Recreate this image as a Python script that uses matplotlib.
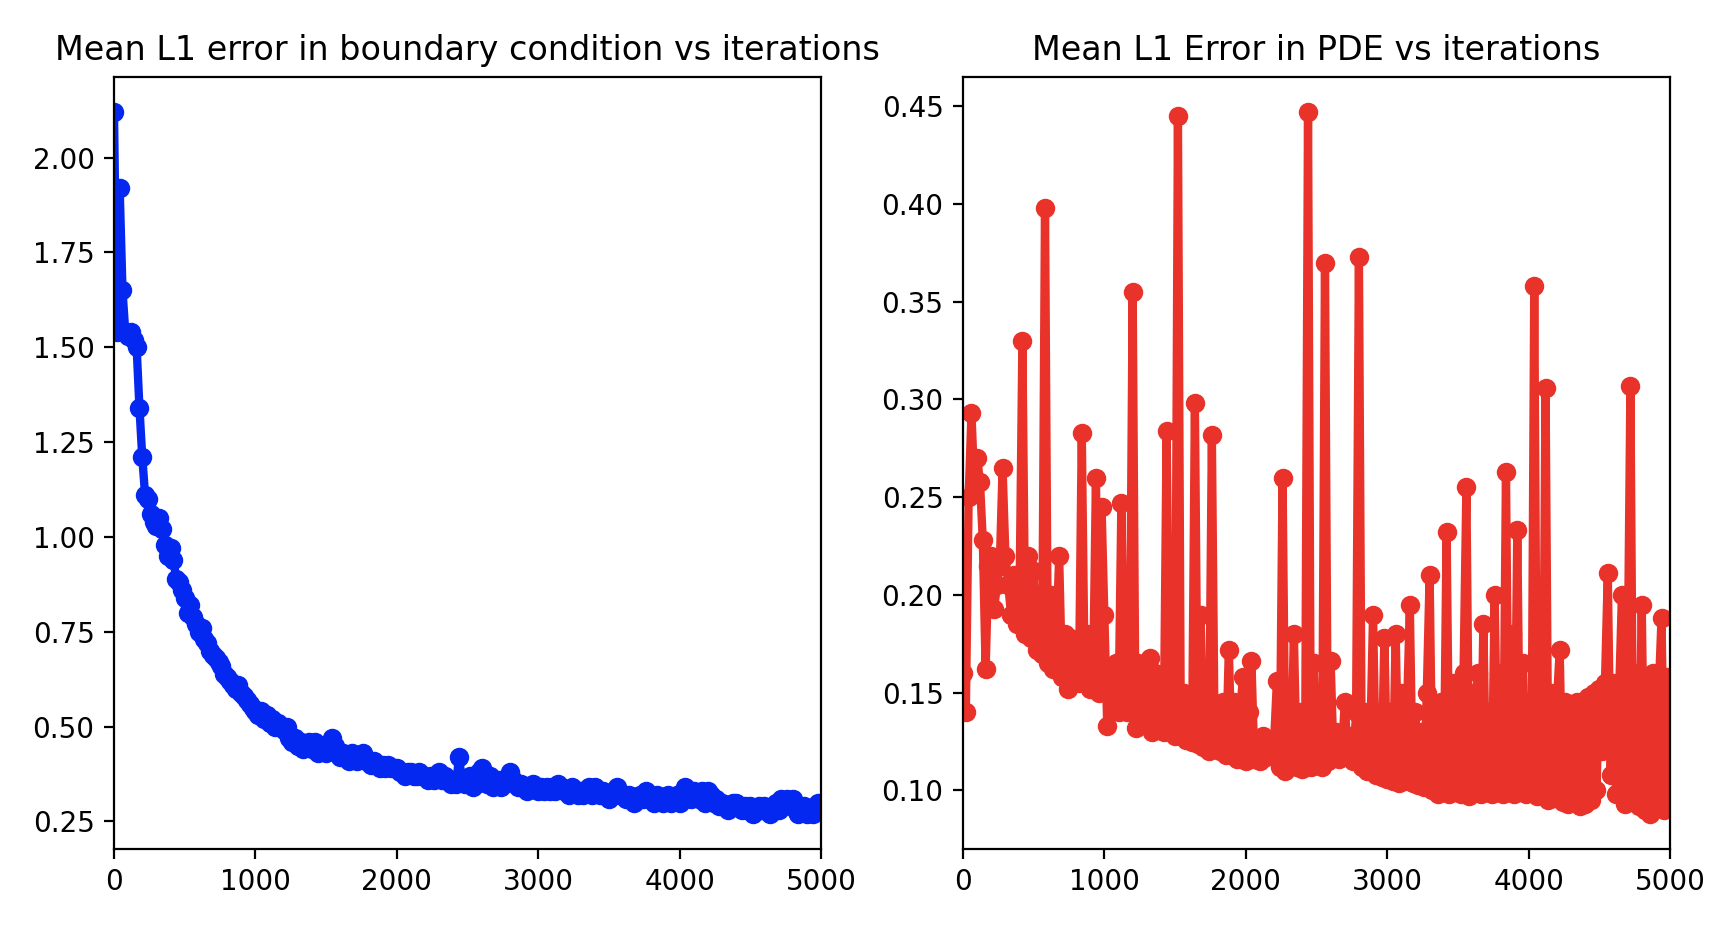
import matplotlib
matplotlib.use("Agg")
import matplotlib.pyplot as plt
import numpy as np

# logged every 20 iterations
iterations = np.arange(0, 5000, 20)

bc_error = [
    2.12, 1.54, 1.92, 1.65, 1.54, 1.53, 1.54, 1.52, 1.50, 1.34,
    1.21, 1.11, 1.10, 1.06, 1.04, 1.03, 1.05, 1.02, 0.98, 0.95,
    0.97, 0.94, 0.89, 0.88, 0.86, 0.84, 0.80, 0.82, 0.79, 0.77,
    0.75, 0.76, 0.73, 0.72, 0.70, 0.69, 0.68, 0.67, 0.66, 0.64,
    0.63, 0.62, 0.61, 0.60, 0.61, 0.59, 0.58, 0.57, 0.56, 0.55,
    0.54, 0.53, 0.54, 0.52, 0.53, 0.51, 0.52, 0.50, 0.51, 0.50,
    0.49, 0.50, 0.47, 0.46, 0.47, 0.45, 0.46, 0.44, 0.45, 0.46,
    0.44, 0.46, 0.43, 0.45, 0.44, 0.43, 0.44, 0.47, 0.45, 0.43,
    0.42, 0.43, 0.42, 0.41, 0.43, 0.42, 0.41, 0.42, 0.43, 0.41,
    0.41, 0.40, 0.41, 0.40, 0.39, 0.40, 0.39, 0.40, 0.39, 0.39,
    0.39, 0.38, 0.38, 0.37, 0.38, 0.38, 0.37, 0.37, 0.38, 0.37,
    0.37, 0.36, 0.37, 0.36, 0.37, 0.38, 0.36, 0.37, 0.36, 0.35,
    0.36, 0.35, 0.42, 0.36, 0.35, 0.36, 0.37, 0.34, 0.35, 0.38,
    0.39, 0.36, 0.35, 0.37, 0.34, 0.35, 0.36, 0.34, 0.35, 0.36,
    0.38, 0.36, 0.35, 0.34, 0.35, 0.34, 0.33, 0.34, 0.35, 0.34,
    0.33, 0.34, 0.33, 0.34, 0.33, 0.34, 0.33, 0.35, 0.34, 0.33,
    0.33, 0.32, 0.34, 0.33, 0.32, 0.33, 0.32, 0.33, 0.34, 0.32,
    0.34, 0.33, 0.32, 0.33, 0.32, 0.31, 0.32, 0.33, 0.34, 0.32,
    0.32, 0.31, 0.32, 0.31, 0.30, 0.31, 0.32, 0.31, 0.33, 0.32,
    0.31, 0.30, 0.32, 0.31, 0.30, 0.31, 0.32, 0.30, 0.31, 0.32,
    0.30, 0.32, 0.34, 0.33, 0.31, 0.33, 0.32, 0.31, 0.33, 0.30,
    0.33, 0.32, 0.30, 0.31, 0.29, 0.30, 0.29, 0.28, 0.29, 0.30,
    0.30, 0.29, 0.28, 0.29, 0.28, 0.29, 0.27, 0.28, 0.29, 0.28,
    0.29, 0.28, 0.27, 0.29, 0.30, 0.28, 0.31, 0.29, 0.31, 0.30,
    0.31, 0.28, 0.27, 0.28, 0.29, 0.27, 0.28, 0.27, 0.28, 0.30,
]

pde_error = [
    0.160, 0.140, 0.250, 0.293, 0.255, 0.270, 0.258, 0.228, 0.162, 0.215,
    0.220, 0.193, 0.205, 0.215, 0.265, 0.220, 0.205, 0.190, 0.210, 0.185,
    0.200, 0.330, 0.180, 0.220, 0.178, 0.212, 0.172, 0.200, 0.170, 0.398,
    0.165, 0.200, 0.162, 0.175, 0.220, 0.158, 0.180, 0.152, 0.178, 0.160,
    0.175, 0.155, 0.283, 0.160, 0.180, 0.152, 0.155, 0.260, 0.150, 0.245,
    0.190, 0.133, 0.160, 0.145, 0.165, 0.140, 0.247, 0.150, 0.140, 0.160,
    0.355, 0.132, 0.165, 0.140, 0.160, 0.135, 0.168, 0.130, 0.160, 0.135,
    0.155, 0.130, 0.284, 0.140, 0.132, 0.128, 0.445, 0.135, 0.150, 0.126,
    0.140, 0.125, 0.298, 0.124, 0.190, 0.122, 0.145, 0.120, 0.282, 0.122,
    0.140, 0.120, 0.145, 0.118, 0.172, 0.118, 0.145, 0.116, 0.140, 0.158,
    0.115, 0.140, 0.166, 0.116, 0.125, 0.115, 0.128, 0.117, 0.122, 0.118,
    0.125, 0.156, 0.112, 0.260, 0.110, 0.130, 0.115, 0.180, 0.112, 0.140,
    0.111, 0.125, 0.447, 0.112, 0.165, 0.113, 0.140, 0.112, 0.370, 0.115,
    0.166, 0.118, 0.130, 0.116, 0.120, 0.145, 0.118, 0.128, 0.115, 0.140,
    0.373, 0.112, 0.140, 0.110, 0.125, 0.190, 0.108, 0.140, 0.107, 0.178,
    0.106, 0.140, 0.105, 0.180, 0.104, 0.150, 0.105, 0.140, 0.195, 0.104,
    0.140, 0.103, 0.130, 0.102, 0.150, 0.210, 0.100, 0.140, 0.098, 0.145,
    0.100, 0.232, 0.098, 0.155, 0.100, 0.150, 0.098, 0.160, 0.255, 0.097,
    0.150, 0.100, 0.160, 0.098, 0.185, 0.100, 0.140, 0.098, 0.200, 0.100,
    0.160, 0.098, 0.263, 0.100, 0.180, 0.098, 0.233, 0.100, 0.165, 0.098,
    0.145, 0.100, 0.358, 0.097, 0.150, 0.100, 0.306, 0.095, 0.150, 0.096,
    0.145, 0.172, 0.094, 0.145, 0.093, 0.140, 0.094, 0.145, 0.092, 0.140,
    0.093, 0.148, 0.095, 0.150, 0.100, 0.152, 0.120, 0.155, 0.211, 0.108,
    0.155, 0.098, 0.150, 0.200, 0.093, 0.155, 0.307, 0.095, 0.160, 0.092,
    0.195, 0.090, 0.155, 0.088, 0.160, 0.092, 0.150, 0.188, 0.090, 0.158,
]

W, H, DPI = 1722, 932, 200
fig = plt.figure(figsize=(W / DPI, H / DPI), dpi=DPI, facecolor="white")
ax1 = fig.add_axes([114 / W, 1 - 849 / H, 707 / W, 772 / H])
ax2 = fig.add_axes([963 / W, 1 - 849 / H, 707 / W, 772 / H])

ax1.plot(iterations, bc_error, "o-", color="#0528f0", lw=3)
ax1.set_xlim(0, 5000)
ax1.set_title("Mean L1 error in boundary condition vs iterations")

ax2.plot(iterations, pde_error, "o-", color="#e8322a", lw=3)
ax2.set_xlim(0, 5000)
ax2.set_title("Mean L1 Error in PDE vs iterations")

fig.savefig("out.png", dpi=DPI)
